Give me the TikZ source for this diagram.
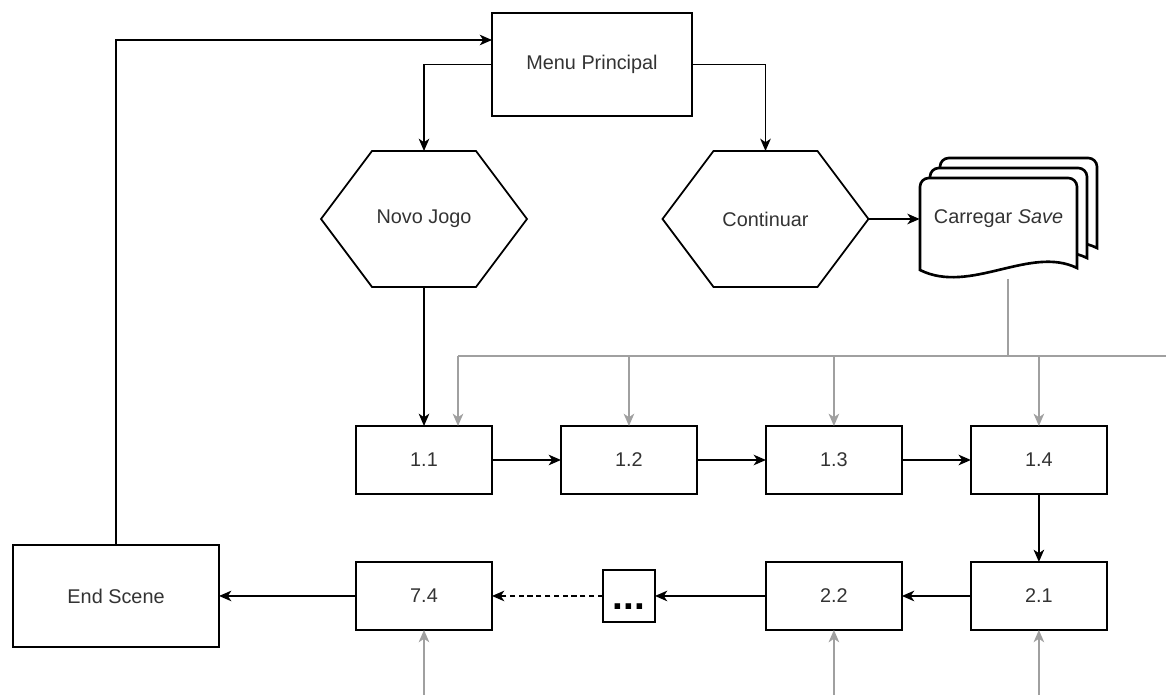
\documentclass[tikz,border=0pt]{standalone}
\usepackage{fontspec}
\setmainfont{Liberation Sans}
\usetikzlibrary{arrows.meta}
\usetikzlibrary{calc}
\usetikzlibrary{positioning}
\definecolor{linegray}{RGB}{160,160,160}
\definecolor{textgray}{RGB}{51,51,51}

\begin{document}
\begin{tikzpicture}[x=0.02cm,y=-0.02cm,font=\fontsize{11.3}{13.6}\selectfont,text=textgray,
box/.style={draw,line width=1pt,minimum width=2.72cm,minimum height=1.36cm,inner sep=0pt,outer sep=0pt},
bigbox/.style={box,minimum height=2.05cm},
hexa/.style={minimum width=4.12cm,minimum height=2.72cm,inner sep=0pt,outer sep=0pt},
arr/.style={line width=1pt,-{Stealth[length=7pt,width=6pt,inset=2pt]}},
grayarr/.style={arr,linegray},
sheet/.style={draw,fill=white,line width=1.5pt}]

\useasboundingbox (0,0) rectangle (1166,695);

\node[bigbox,minimum width=4cm] (menu) at (592,64.5) {Menu Principal};
\node[hexa] (novo) at (424,219) {Novo Jogo};
\node[hexa] (cont) at (765.5,219) {Continuar};
\foreach \n in {novo,cont}
  \draw[line width=1pt] (\n.west) -- ([xshift=1.02cm]\n.north west) -- ([xshift=-1.02cm]\n.north east) -- (\n.east) -- ([xshift=-1.02cm]\n.south east) -- ([xshift=1.02cm]\n.south west) -- cycle;

\foreach \d in {20,10,0}
  \draw[sheet,shift={(\d,-\d)}] (920,270) [rounded corners=5pt] -- (920,178) -- (1077,178) [sharp corners] -- (1077,268) .. controls (1030,245) and (970,295) .. (920,270) -- cycle;
\node[minimum width=3.14cm,minimum height=1.64cm,inner sep=0pt] (save) at (998.5,219) {Carregar \textit{Save}};

\node[box] (b11) at (424,460) {1.1};
\node[box,right=1.38cm of b11] (b12) {1.2};
\node[box,right=1.38cm of b12] (b13) {1.3};
\node[box,right=1.38cm of b13] (b14) {1.4};
\node[box,below=1.36cm of b14] (b21) {2.1};
\node[box,left=1.38cm of b21] (b22) {2.2};
\node[box,minimum width=1.04cm,minimum height=1.04cm,text=black,font=\fontsize{22}{22}\selectfont\bfseries,left=2.22cm of b22] (dots) {\vphantom{A}...};
\node[box,left=2.22cm of dots] (b74) {7.4};
\node[bigbox,minimum width=4.12cm,left=2.74cm of b74] (endsc) {End Scene};

\coordinate (savebot) at (1008,279);
\coordinate (busL) at (458,356);
\coordinate (busR) at (1166,356);
\coordinate (bottom) at (0,695);
\draw[linegray,line width=1pt] (savebot) -- (savebot |- busL);
\draw[linegray,line width=1pt] (busL) -- (busR);
\draw[grayarr] (busL) -- (busL |- b11.north);
\foreach \b in {b12,b13,b14}
  \draw[grayarr] (\b.north |- busL) -- (\b.north);
\foreach \b in {b74,b22,b21}
  \draw[grayarr] (\b.south |- bottom) -- (\b.south);

\draw[arr] (menu.west) -| (novo.north);
\draw[arr] (menu.east) -| (cont.north);
\draw[arr] (endsc.north) |- ([yshift=0.49cm]menu.west);
\draw[arr] (novo.south) -- (b11.north);
\draw[arr] (cont.east) -- (save.west);
\draw[arr] (b11) -- (b12);
\draw[arr] (b12) -- (b13);
\draw[arr] (b13) -- (b14);
\draw[arr] (b14) -- (b21);
\draw[arr] (b21) -- (b22);
\draw[arr] (b22) -- (dots);
\draw[arr,dash pattern=on 3pt off 2pt] (dots) -- (b74);
\draw[arr] (b74) -- (endsc);

\end{tikzpicture}
\end{document}
